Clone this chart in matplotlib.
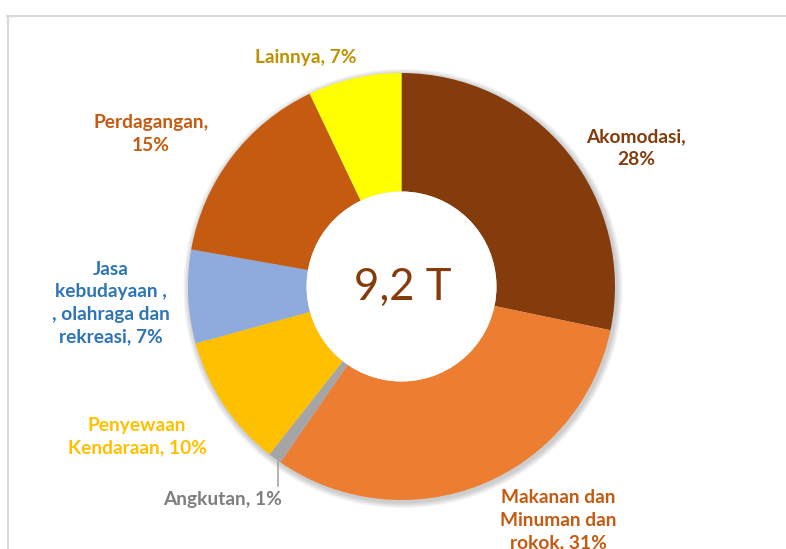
import matplotlib
matplotlib.use("Agg")
import matplotlib.pyplot as plt
from matplotlib.patches import Circle
from matplotlib.lines import Line2D

categories = ["Akomodasi", "Makanan dan\nMinuman dan\nrokok", "Angkutan",
              "Penyewaan\nKendaraan", "Jasa\nkebudayaan ,\n, olahraga dan\nrekreasi",
              "Perdagangan", "Lainnya"]
values = [28, 31, 1, 10, 7, 15, 7]
label_texts = ["Akomodasi,\n28%", "Makanan dan\nMinuman dan\nrokok, 31%", "Angkutan, 1%",
               "Penyewaan\nKendaraan, 10%", "Jasa\nkebudayaan ,\n, olahraga dan\nrekreasi, 7%",
               "Perdagangan,\n15%", "Lainnya, 7%"]
colors = ["#843C0C", "#ED7D31", "#A5A5A5", "#FFC000", "#8FAADC", "#C55A11", "#FFFF00"]
text_colors = ["#843C0C", "#C55A11", "#7F7F7F", "#FFC000", "#2E75B6", "#C55A11", "#BF9000"]
center_label = "9,2 T"

W, H = 786, 549
fig = plt.figure(figsize=(W / 100, H / 100), dpi=100)
ax = fig.add_axes([0, 0, 1, 1])

cx, cy, R = 401.5, H - 286.5, 213.5
hole = 95.0

# soft shadow
for i in range(4):
    ax.add_patch(Circle((cx + 1.5, cy - 2), R + 6 - i * 1.5, facecolor="#000000",
                        edgecolor="none", alpha=0.05, zorder=1))

wedges, _ = ax.pie(values, colors=colors, startangle=90, counterclock=False,
                   center=(cx, cy), radius=R, frame=True,
                   wedgeprops=dict(width=R - hole, linewidth=0, zorder=2))
ax.set_xlim(0, W)
ax.set_ylim(0, H)
ax.set_aspect("equal")
ax.axis("off")
ax.add_patch(Circle((cx, cy), hole, facecolor="white", edgecolor="none", zorder=3))

ax.text(cx + 1, cy - 1, center_label, ha="center", va="center", fontsize=31.5,
        color="#843C0C", family="Lato", zorder=5)

# label positions (pixel coordinates from top)
label_pos = [(636, 148), (558, 520), (223, 500), (137, 437), (111, 303), (151, 134), (306, 57)]
for txt, col, (x, y) in zip(label_texts, text_colors, label_pos):
    ax.text(x, H - y, txt, ha="center", va="center", fontsize=13.8, fontweight="bold",
            color=col, family="Lato", linespacing=1.38, zorder=5)

# leader line for Angkutan
ax.add_line(Line2D([278, 278], [H - 462, H - 486], color="#A5A5A5", lw=1.2, zorder=4))

# frame border
ax.add_line(Line2D([7, W], [H - 15.5, H - 15.5], color="#D9D9D9", lw=1.5, zorder=6))
ax.add_line(Line2D([7.5, 7.5], [0, H - 15.5], color="#D9D9D9", lw=1.5, zorder=6))

fig.savefig("out.png", dpi=100, facecolor="white")
